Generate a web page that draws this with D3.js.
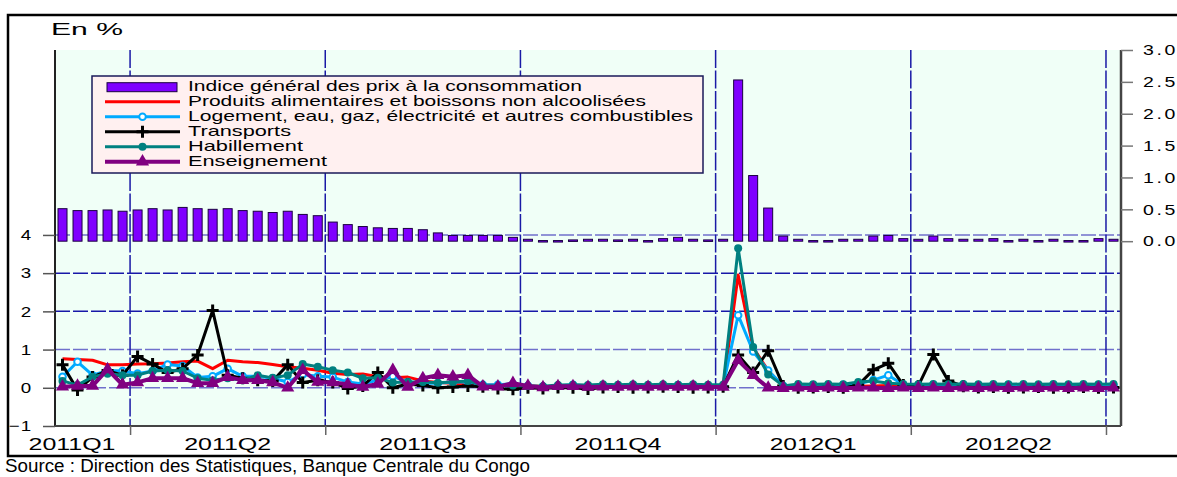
<!DOCTYPE html>
<html><head><meta charset="utf-8">
<script src="https://cdn.jsdelivr.net/npm/d3@7"></script>
<style>
body{margin:0;background:#fff;overflow:hidden;}
svg text{font-family:"Liberation Sans",Arial,sans-serif;fill:#000;}
</style></head><body>
<svg id="chart" width="1177" height="477"></svg>
<script>
// ---- data ----
const quarterLabels = ["2011Q1","2011Q2","2011Q3","2011Q4","2012Q1","2012Q2","2012Q3"];
const quarterWeeks  = [5,13,13,13,13,13,1];
const leftTicks  = [-1,0,1,2,3,4];
const rightTicks = [0,0.5,1,1.5,2,2.5,3];
const seriesNames = [
  "Indice général des prix à la consommation",
  "Produits alimentaires et boissons non alcoolisées",
  "Logement, eau, gaz, électricité et autres combustibles",
  "Transports",
  "Habillement",
  "Enseignement"
];
const ipc = [0.51,0.48,0.48,0.49,0.47,
  0.49,0.51,0.49,0.53,0.51,0.50,0.51,0.48,0.47,0.45,0.47,0.42,0.40,
  0.30,0.26,0.23,0.21,0.20,0.20,0.18,0.13,0.09,0.09,0.09,0.09,0.06,
  0.03,0.01,0.01,0.02,0.03,0.03,0.02,0.03,0.01,0.04,0.06,0.03,0.02,
  0.03,2.53,1.03,0.52,0.08,0.03,0.01,0.01,0.03,0.03,0.08,0.09,0.04,
  0.03,0.08,0.04,0.03,0.03,0.04,0.01,0.03,0.01,0.03,0.01,0.01,0.04,
  0.03];
const alimentaires = [0.76,0.74,0.72,0.60,0.60,
  0.62,0.63,0.65,0.68,0.70,0.50,0.72,0.68,0.66,0.61,0.55,0.51,0.46,
  0.38,0.35,0.36,0.29,0.26,0.28,0.18,0.14,0.12,0.10,0.08,0.07,0.05,
  0.05,0.04,0.03,0.04,0.03,0.03,0.04,0.03,0.03,0.04,0.03,0.03,0.03,
  0.03,2.95,1.05,0.45,0.03,0.02,0.03,0.02,0.03,0.04,0.05,0.06,0.03,
  0.02,0.03,0.04,0.03,0.02,0.03,0.02,0.03,0.02,0.03,0.02,0.03,0.02,
  0.03];
const logement = [0.29,0.68,0.33,0.45,0.44,
  0.37,0.44,0.61,0.57,0.27,0.30,0.50,0.30,0.30,0.25,0.15,0.35,0.30,
  0.28,0.15,0.10,0.20,0.30,0.15,0.12,0.12,0.15,0.15,0.08,0.08,0.10,
  0.05,0.03,0.05,0.08,0.05,0.06,0.05,0.07,0.06,0.05,0.07,0.06,0.06,
  0.05,1.90,0.95,0.45,0.05,0.06,0.07,0.06,0.08,0.10,0.20,0.33,0.08,
  0.07,0.08,0.06,0.08,0.07,0.06,0.08,0.07,0.06,0.08,0.07,0.06,0.08,
  0.07];
const transports = [0.60,-0.06,0.28,0.45,0.33,
  0.82,0.62,0.40,0.50,0.86,2.02,0.33,0.25,0.20,0.18,0.60,0.14,0.20,
  0.14,-0.02,0.05,0.40,0.00,0.10,0.06,0.00,0.02,0.05,0.03,-0.02,-0.04,
  0.00,-0.02,0.01,0.00,-0.03,0.01,0.02,0.00,0.01,0.03,0.02,0.00,0.01,
  0.03,0.86,0.40,0.97,0.05,0.00,0.01,0.02,0.00,0.07,0.47,0.64,0.07,
  0.05,0.87,0.18,0.04,0.01,0.02,0.00,0.01,0.02,0.00,0.01,0.02,0.00,
  0.01];
const habillement = [0.18,0.07,0.29,0.37,0.33,
  0.33,0.44,0.46,0.44,0.25,0.20,0.25,0.20,0.33,0.26,0.33,0.62,0.55,
  0.46,0.40,0.25,0.26,0.14,0.15,0.15,0.13,0.15,0.18,0.06,0.05,0.06,
  0.05,0.04,0.07,0.08,0.07,0.09,0.08,0.09,0.08,0.09,0.08,0.09,0.08,
  0.08,3.65,1.07,0.35,0.05,0.10,0.09,0.10,0.09,0.15,0.18,0.12,0.10,
  0.09,0.10,0.09,0.10,0.09,0.10,0.09,0.10,0.09,0.10,0.09,0.10,0.09,
  0.10];
const enseignement = [0.03,0.05,0.05,0.48,0.08,
  0.14,0.25,0.25,0.25,0.12,0.12,0.28,0.20,0.20,0.14,0.00,0.46,0.15,
  0.14,0.09,0.02,0.10,0.46,0.02,0.25,0.33,0.29,0.33,0.03,0.03,0.12,
  0.05,0.01,0.04,0.04,0.02,0.03,0.02,0.03,0.02,0.03,0.02,0.03,0.02,
  0.02,0.72,0.33,0.00,-0.01,0.00,-0.01,0.00,-0.01,0.00,0.00,-0.01,0.00,
  -0.01,0.00,-0.01,0.00,-0.01,0.00,-0.01,0.00,-0.01,0.00,-0.01,0.00,-0.01,
  0.00];

// categories: weeks inside each quarter
const categories = [];
const quarterStart = [];
quarterLabels.forEach((q,qi)=>{
  quarterStart.push(categories.length);
  for(let w=0; w<quarterWeeks[qi]; w++) categories.push(q+"-S"+(w+1));
});

// ---- layout ----
const svg = d3.select("#chart");
const L = 55, R = 1121, T = 50, B = 426;

svg.append("rect").attr("x",8).attr("y",15).attr("width",1200).attr("height",441)
  .attr("fill","#fff").attr("stroke","#000").attr("stroke-width",2.5);
svg.append("rect").attr("x",L).attr("y",T).attr("width",R-L).attr("height",B-T).attr("fill","#f0fff7");

const x = d3.scaleBand().domain(categories).range([L,R]).paddingInner(0.4).paddingOuter(0.2);
const step = x.step();
const xc = c => x(c) + x.bandwidth()/2;
const xEdge = i => x(categories[i]) - step*0.2;
const yL = d3.scaleLinear().domain([-1,8.84]).range([B,T]);
const yR = d3.scaleLinear().domain([-2.9,3]).range([B,T]);

// gridlines
const gH = svg.append("g");
leftTicks.filter(d=>d>-1).forEach(d=>{
  gH.append("line").attr("x1",L).attr("x2",R).attr("y1",yL(d)).attr("y2",yL(d))
    .attr("stroke", (d===2||d===3)?"#1818a8":"#7070cc").attr("stroke-width",1.5)
    .attr("stroke-dasharray","15,3");
});
quarterStart.slice(1).forEach(i=>{
  svg.append("line").attr("x1",xEdge(i)).attr("x2",xEdge(i)).attr("y1",T).attr("y2",B)
    .attr("stroke","#1a1aa6").attr("stroke-width",1.5).attr("stroke-dasharray","18,2.5");
});

// bars
svg.append("g").selectAll("rect").data(ipc).join("rect")
  .attr("x",(d,i)=>x(categories[i])).attr("width",x.bandwidth())
  .attr("y",d=>Math.min(yR(d),yR(0))).attr("height",d=>Math.max(1.5,Math.abs(yR(d)-yR(0))))
  .attr("fill","#7f00ff").attr("stroke","#1a0040").attr("stroke-width",1);

// lines
const lineSeries = [
  {v:alimentaires, color:"#ff0000", w:3, m:"none"},
  {v:logement, color:"#00aaff", w:3, m:"ocircle"},
  {v:transports, color:"#000000", w:3, m:"plus"},
  {v:habillement, color:"#008080", w:3, m:"circle"},
  {v:enseignement, color:"#800080", w:4, m:"triangle"}
];
function drawMarker(g, m, color){
  if(m==="ocircle") g.append("circle").attr("r",3.3).attr("fill","#fff").attr("stroke",color).attr("stroke-width",2);
  else if(m==="circle") g.append("circle").attr("r",4).attr("fill",color);
  else if(m==="plus") g.append("path").attr("d","M-6,0H6M0,-6V6").attr("stroke",color).attr("stroke-width",3);
  else if(m==="triangle") g.append("path").attr("d",d3.symbol(d3.symbolTriangle,75)()).attr("fill",color);
}
lineSeries.forEach(s=>{
  const line = d3.line().x((d,i)=>xc(categories[i])).y(d=>yL(d));
  svg.append("path").datum(s.v).attr("d",line).attr("fill","none")
    .attr("stroke",s.color).attr("stroke-width",s.w).attr("stroke-linejoin","round");
  if(s.m!=="none"){
    s.v.forEach((d,i)=>{
      const g = svg.append("g").attr("transform",`translate(${xc(categories[i])},${yL(d)})`);
      drawMarker(g,s.m,s.color);
    });
  }
});

// axes
const axL = svg.append("g").attr("transform",`translate(${L},0)`)
  .call(d3.axisLeft(yL).tickValues(leftTicks).tickSize(12).tickPadding(10).tickFormat(d3.format("d")));
axL.select(".domain").attr("stroke","#222").attr("stroke-width",2).attr("d",`M0,${T}V${B}`);
axL.selectAll(".tick line").attr("stroke","#555").attr("stroke-width",1.5);
axL.selectAll(".tick text").attr("font-size",15).attr("letter-spacing","1px")
  .attr("transform","scale(1.25,1)").attr("x",-18)
  .style("font-family","Liberation Sans, Arial").attr("fill","#000");

const axR = svg.append("g").attr("transform",`translate(${R},0)`)
  .call(d3.axisRight(yR).tickValues(rightTicks).tickSize(12).tickPadding(10).tickFormat(d3.format(".1f")));
axR.select(".domain").attr("stroke","#444").attr("stroke-width",2.5).attr("d",`M0,${T}V${B}`);
axR.selectAll(".tick line").attr("stroke","#777").attr("stroke-width",1.5);
axR.selectAll(".tick text").attr("font-size",15).attr("letter-spacing","2px")
  .attr("transform","scale(1.3,1)").attr("x",17)
  .style("font-family","Liberation Sans, Arial").attr("fill","#000");

const xi = d3.scaleLinear().domain([0,categories.length]).range([L,R]);
const axB = svg.append("g").attr("transform",`translate(0,${B})`)
  .call(d3.axisBottom(xi).tickValues(quarterStart.slice(1)).tickSize(9).tickFormat(""));
axB.select(".domain").attr("stroke","#444").attr("stroke-width",2).attr("d",`M${L},0H${R}`);
axB.selectAll(".tick line").attr("stroke","#666").attr("stroke-width",1.5);

// quarter labels
quarterLabels.forEach((q,qi)=>{
  if(quarterWeeks[qi] < 2) return;
  const s = quarterStart[qi], e = s + quarterWeeks[qi];
  let cx = (xEdge(s) + (e<categories.length?xEdge(e):R))/2;
  if(quarterWeeks[qi] < 13) cx = Math.max(cx - 21, L + 17);
  svg.append("text").attr("x",cx-43.5).attr("y",450).attr("font-size",16)
    .attr("textLength",87).attr("lengthAdjust","spacingAndGlyphs").text(q);
});

// titles
svg.append("text").attr("x",51).attr("y",35).attr("font-size",16)
  .attr("textLength",72).attr("lengthAdjust","spacingAndGlyphs").text("En %");
svg.append("text").attr("x",5).attr("y",472).attr("font-size",18)
  .attr("textLength",525).attr("lengthAdjust","spacingAndGlyphs")
  .text("Source : Direction des Statistiques, Banque Centrale du Congo");

// legend
const lg = svg.append("g");
lg.append("rect").attr("x",92).attr("y",76).attr("width",611).attr("height",97)
  .attr("fill","#fff0f0").attr("stroke","#1a1a5a").attr("stroke-width",1.5);
const legendWidths = [394,458,505,103,115,139];
seriesNames.forEach((name,k)=>{
  const base = 90.7 + 15*k;
  if(k===0){
    lg.append("rect").attr("x",107).attr("y",base-8).attr("width",70).attr("height",9)
      .attr("fill","#7f00ff").attr("stroke","#1a0040").attr("stroke-width",1);
  } else {
    const s = lineSeries[k-1];
    lg.append("line").attr("x1",105).attr("x2",180).attr("y1",base-4).attr("y2",base-4)
      .attr("stroke",s.color).attr("stroke-width",s.w);
    if(s.m!=="none"){
      const g = lg.append("g").attr("transform",`translate(142.5,${base-4})`);
      drawMarker(g,s.m,s.color);
    }
  }
  lg.append("text").attr("x",188).attr("y",base).attr("font-size",15)
    .attr("textLength",legendWidths[k]).attr("lengthAdjust","spacingAndGlyphs").text(name);
});
</script>
</body></html>
